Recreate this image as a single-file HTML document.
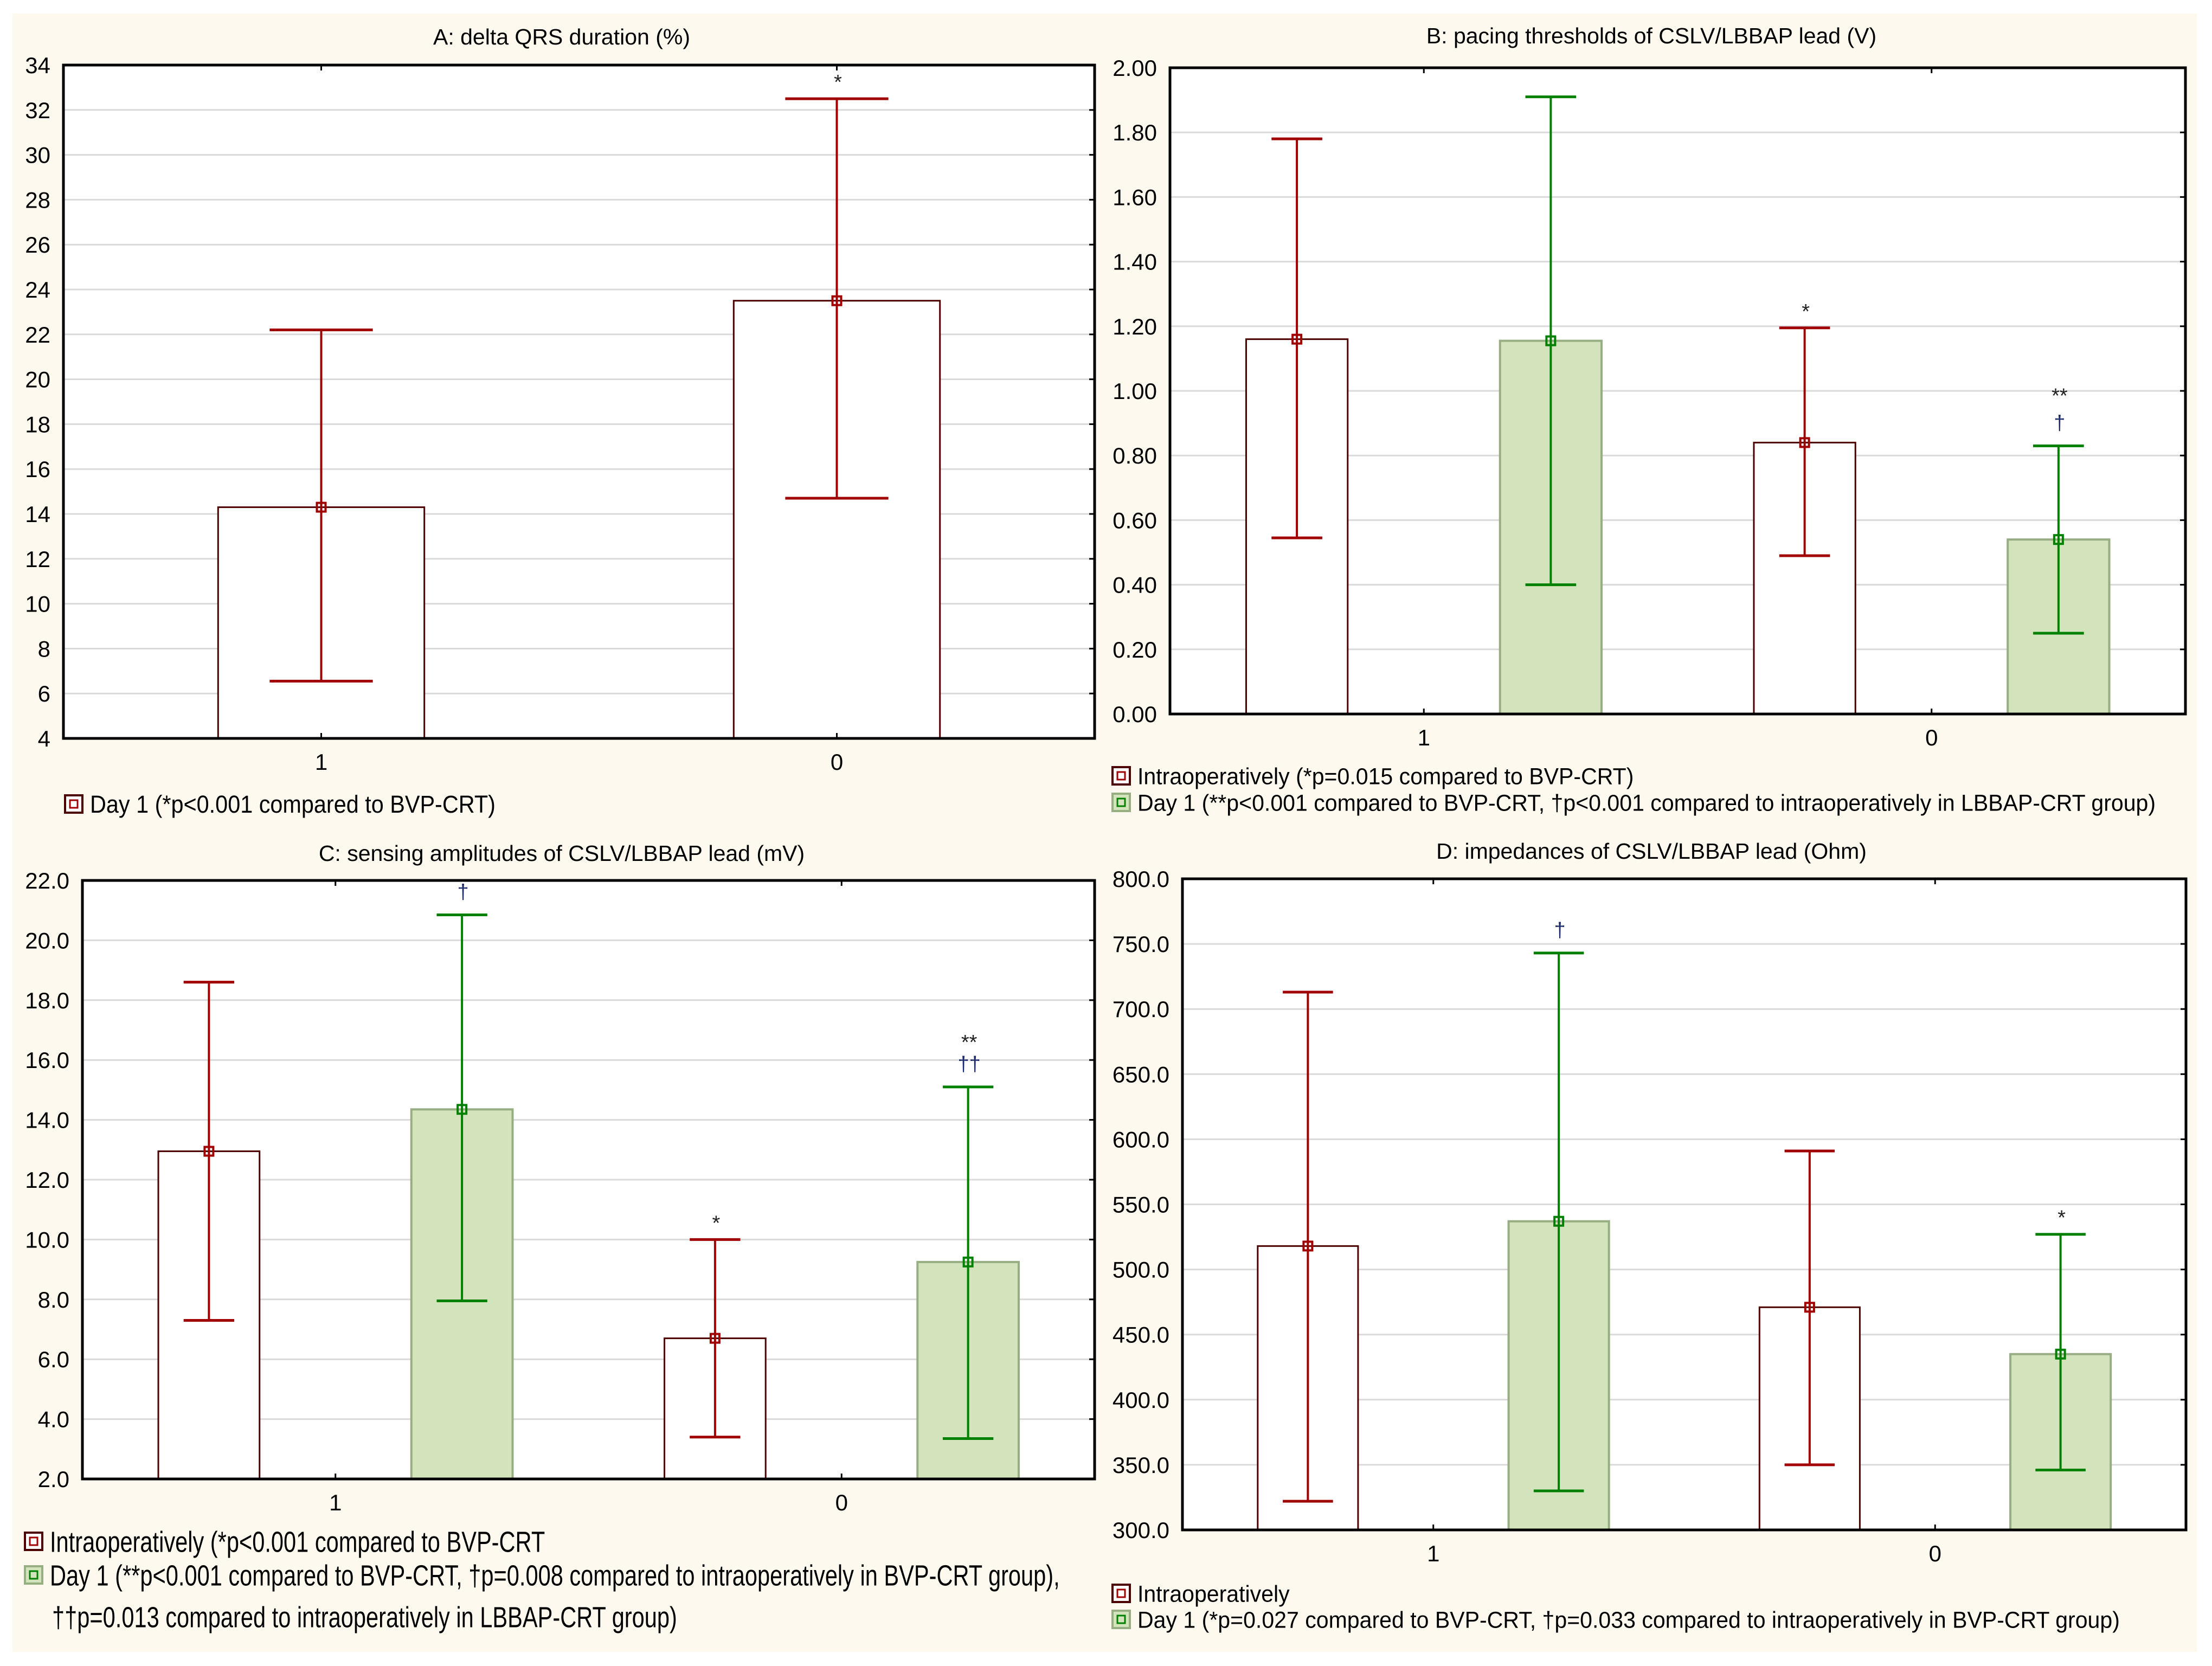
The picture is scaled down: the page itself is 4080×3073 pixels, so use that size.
<!DOCTYPE html>
<html><head><meta charset="utf-8"><style>
html,body{margin:0;padding:0;background:#fff;}
svg{display:block;font-family:"Liberation Sans",Arial,sans-serif;}
</style></head><body>
<svg id="fig" width="4080" height="3073" viewBox="0 0 4080 3073" xmlns="http://www.w3.org/2000/svg">
<rect x="23" y="25" width="4029" height="3022" fill="#fef9ee"/>
</svg>
<script>
// Panel A data
const aCategories = ["1","0"];
const aMeans = [14.3, 23.5];
const aLower = [6.55, 14.7];
const aUpper = [22.2, 32.5];
const aTicks = [4,6,8,10,12,14,16,18,20,22,24,26,28,30,32,34];
// Panel B data
const bCategories = ["1","0"];
const bIntraMeans = [1.16, 0.84];
const bIntraLower = [0.545, 0.49];
const bIntraUpper = [1.78, 1.195];
const bDayMeans = [1.155, 0.54];
const bDayLower = [0.40, 0.25];
const bDayUpper = [1.91, 0.83];
const bTicks = ["0.00","0.20","0.40","0.60","0.80","1.00","1.20","1.40","1.60","1.80","2.00"];
// Panel C data
const cCategories = ["1","0"];
const cIntraMeans = [12.95, 6.7];
const cIntraLower = [7.3, 3.4];
const cIntraUpper = [18.6, 10.0];
const cDayMeans = [14.35, 9.25];
const cDayLower = [7.95, 3.35];
const cDayUpper = [20.85, 15.1];
const cTicks = ["2.0","4.0","6.0","8.0","10.0","12.0","14.0","16.0","18.0","20.0","22.0"];
// Panel D data
const dCategories = ["1","0"];
const dIntraMeans = [518, 471];
const dIntraLower = [322, 350];
const dIntraUpper = [713, 591];
const dDayMeans = [537, 435];
const dDayLower = [330, 346];
const dDayUpper = [743, 527];
const dTicks = ["300.0","350.0","400.0","450.0","500.0","550.0","600.0","650.0","700.0","750.0","800.0"];

const NS = "http://www.w3.org/2000/svg";
const svg = document.getElementById('fig');
function mk(tag, attrs, parent, text){
  const e = document.createElementNS(NS, tag);
  for (const k in attrs) e.setAttribute(k, attrs[k]);
  if (text !== undefined) e.textContent = text;
  (parent || svg).appendChild(e);
  return e;
}
const RED="#a00000", GREEN="#008000", BAROUT="#4d0000";

function panel(p){
  const g = mk('g',{});
  
  
  const ticks = p.ticks.map(Number);
  const ymin = ticks[0], ymax = ticks[ticks.length-1];
  const W = p.R - p.L;
  const y = v => p.B - (v - ymin) / (ymax - ymin) * (p.B - p.T);
  const catX = i => p.L + W * (i === 0 ? 0.25 : 0.75);
  mk('rect',{x:p.L,y:p.T,width:W,height:p.B-p.T,fill:"#fff"},g);
  p.ticks.forEach((t,i)=>{
    const yy = y(Number(t));
    if (i>0 && i<p.ticks.length-1){
      const gl = mk('line',{x1:p.L,x2:p.R,y1:yy,y2:yy,stroke:"#dadada","stroke-width":3},g);
      
      
    }
    mk('line',{x1:p.R-10,x2:p.R,y1:yy,y2:yy,stroke:"#000","stroke-width":3},g);
    const tl = mk('text',{x:p.L-24,y:yy+15,"font-size":42,"text-anchor":"end",fill:"#000"},g,t);
    
    
  });
  p.series.forEach((s,si)=>{
    s.means.forEach((m,ci)=>{
      const cx = p.series.length===1 ? catX(ci) : catX(ci) + (si===0?-1:1)*W*0.125;
      const bw = p.series.length===1 ? W*0.2 : W*0.1;
      const cw = p.series.length===1 ? W*0.1 : W*0.05;
      const bar = mk('rect',{x:cx-bw/2,y:y(m),width:bw,height:p.B-y(m),fill:s.fill,stroke:s.stroke,"stroke-width":s.sw},g);
      
      
      const eb = mk('g',{},g);
      
      
      mk('line',{x1:cx,x2:cx,y1:y(s.lower[ci]),y2:y(s.upper[ci]),stroke:s.line,"stroke-width":4},eb);
      mk('line',{x1:cx-cw/2,x2:cx+cw/2,y1:y(s.lower[ci]),y2:y(s.lower[ci]),stroke:s.line,"stroke-width":5},eb);
      mk('line',{x1:cx-cw/2,x2:cx+cw/2,y1:y(s.upper[ci]),y2:y(s.upper[ci]),stroke:s.line,"stroke-width":5},eb);
      mk('rect',{x:cx-8,y:y(m)-8,width:16,height:16,fill:"none",stroke:s.line,"stroke-width":4},eb);
      const ann = s.ann[ci];
      if (ann){
        ann.forEach((a,k)=>{
          const isDag = a.indexOf('†')>=0;
          const base = y(s.upper[ci]) - (isDag?30:18) - (ann.length-1-k)*(p.annGap||55);
          const t = mk('text',{x:cx+2,y:base,"font-size":38,"text-anchor":"middle",fill:isDag?"#1a2a6a":"#222"},g,a);
          
          
        });
      }
    });
  });
  mk('rect',{x:p.L,y:p.T,width:W,height:p.B-p.T,fill:"none",stroke:"#000","stroke-width":5},g);
  p.cats.forEach((c,i)=>{
    mk('line',{x1:catX(i),x2:catX(i),y1:p.T,y2:p.T+10,stroke:"#000","stroke-width":3},g);
    mk('line',{x1:catX(i),x2:catX(i),y1:p.B,y2:p.B-10,stroke:"#000","stroke-width":3},g);
    const xl = mk('text',{x:catX(i),y:p.B+58,"font-size":42,"text-anchor":"middle",fill:"#000"},g,c);
    
    
  });
  const tt = mk('text',{x:p.titleX,y:p.titleY,"font-size":41,"text-anchor":"middle",fill:"#000"},g,p.title);
  
  
  p.legend.forEach((l,i)=>{
    const lg = mk('g',{},g);
    
    
    if (l.box){
      const green = l.box==='g';
      mk('rect',{x:p.lx+2,y:l.y-16,width:32,height:32,fill:green?"#d3e4bd":"#fff",stroke:green?"#97ad82":BAROUT,"stroke-width":4},lg);
      mk('rect',{x:p.lx+11,y:l.y-7,width:14,height:14,fill:"none",stroke:green?GREEN:RED,"stroke-width":3},lg);
    }
    mk('text',{x:0,y:0,"font-size":p.lfs,fill:"#000",transform:`translate(${p.lx+(l.box?48:52)},${l.y+p.lfs*0.36}) scale(${p.lsx},1)`},lg,l.text);
  });
}

const intraStyle = {key:'intraoperatively',fill:"#fff",stroke:BAROUT,sw:3,line:RED};
const dayStyle = {key:'day1',fill:"#d3e4bd",stroke:"#97ad82",sw:4,line:GREEN};

panel({name:'panel-a-delta-qrs',L:117,R:2019,T:120,B:1362,ticks:aTicks.map(String),cats:aCategories,titleX:1036,titleY:82,
  title:"A: delta QRS duration (%)",
  series:[Object.assign({},intraStyle,{key:'day1',means:aMeans,lower:aLower,upper:aUpper,ann:[null,["*"]]})],
  lx:118,lfs:45,lsx:0.92,legend:[{box:'r',y:1483,text:"Day 1 (*p<0.001 compared to BVP-CRT)"}]});

panel({name:'panel-b-pacing-thresholds',L:2158,R:4031,T:125,B:1317,ticks:bTicks,cats:bCategories,titleX:3046,titleY:80,annGap:62,
  title:"B: pacing thresholds of CSLV/LBBAP lead (V)",
  series:[Object.assign({},intraStyle,{means:bIntraMeans,lower:bIntraLower,upper:bIntraUpper,ann:[null,["*"]]}),
          Object.assign({},dayStyle,{means:bDayMeans,lower:bDayLower,upper:bDayUpper,ann:[null,["**","†"]]})],
  lx:2050,lfs:43,lsx:0.955,legend:[{box:'r',y:1431,text:"Intraoperatively (*p=0.015 compared to BVP-CRT)"},
    {box:'g',y:1480,text:"Day 1 (**p<0.001 compared to BVP-CRT, †p<0.001 compared to intraoperatively in LBBAP-CRT group)"}]});

panel({name:'panel-c-sensing-amplitudes',L:152,R:2019,T:1624,B:2728,ticks:cTicks,cats:cCategories,titleX:1036,titleY:1588,annGap:52,
  title:"C: sensing amplitudes of CSLV/LBBAP lead (mV)",
  series:[Object.assign({},intraStyle,{means:cIntraMeans,lower:cIntraLower,upper:cIntraUpper,ann:[null,["*"]]}),
          Object.assign({},dayStyle,{means:cDayMeans,lower:cDayLower,upper:cDayUpper,ann:[["†"],["**","††"]]})],
  lx:44,lfs:54,lsx:0.77,legend:[{box:'r',y:2843,text:"Intraoperatively (*p<0.001 compared to BVP-CRT"},
    {box:'g',y:2905,text:"Day 1 (**p<0.001 compared to BVP-CRT, †p=0.008 compared to intraoperatively in BVP-CRT group),"},
    {box:null,y:2982,text:"††p=0.013 compared to intraoperatively in LBBAP-CRT group)"}]});

panel({name:'panel-d-impedances',L:2181,R:4032,T:1621,B:2822,ticks:dTicks,cats:dCategories,titleX:3046,titleY:1584,
  title:"D: impedances of CSLV/LBBAP lead (Ohm)",
  series:[Object.assign({},intraStyle,{means:dIntraMeans,lower:dIntraLower,upper:dIntraUpper,ann:[null,null]}),
          Object.assign({},dayStyle,{means:dDayMeans,lower:dDayLower,upper:dDayUpper,ann:[["†"],["*"]]})],
  lx:2050,lfs:43,lsx:0.955,legend:[{box:'r',y:2939,text:"Intraoperatively"},
    {box:'g',y:2987,text:"Day 1 (*p=0.027 compared to BVP-CRT, †p=0.033 compared to intraoperatively in BVP-CRT group)"}]});
</script>
</body></html>
